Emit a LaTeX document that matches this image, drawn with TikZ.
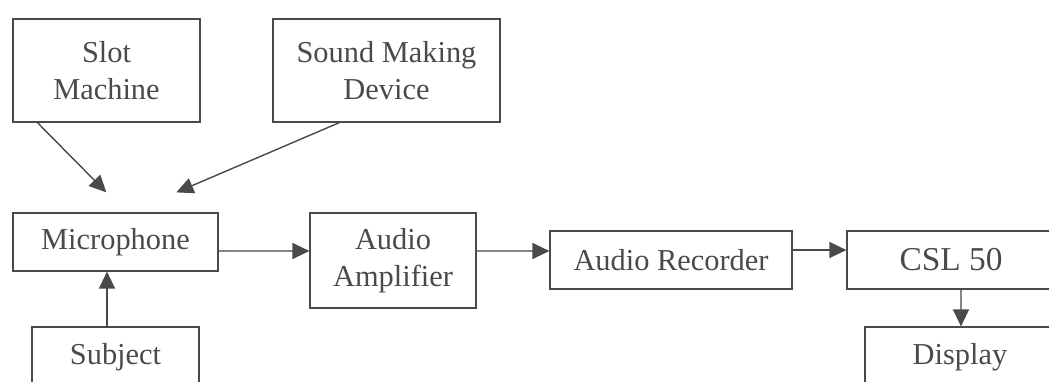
\documentclass[tikz,border=0pt]{standalone}
\usepackage{fontspec}
\setmainfont{Liberation Serif}
\usepackage{xcolor}
\usetikzlibrary{arrows.meta, positioning}
\definecolor{ink}{HTML}{4A4A4A}

\begin{document}
\begin{tikzpicture}[
			x=0.02cm, y=-0.02cm,
			block/.style={draw=ink, line width=0.7pt, rectangle, align=center, text=ink, inner sep=0pt,
				font=\fontsize{17.3}{21}\selectfont},
			arrow/.style={-{Triangle[length=0.34cm, width=0.32cm]}, draw=ink, fill=ink, line width=0.8pt}
			]
			
			\useasboundingbox (0,0) rectangle (1049,382);
			\clip (0,0) rectangle (1049,382);
			
			% Nodes
			\node (slot) [block, minimum width=3.74cm, minimum height=2.06cm] at (106.5,70.5) {Slot\\Machine};
			\node (sound) [block, minimum width=4.54cm, minimum height=2.06cm] at (386.5,70.5) {Sound Making\\Device};
			\node (mic) [block, minimum width=4.1cm, minimum height=1.16cm] at (115.5,242) {Microphone};
			\node (amp) [block, minimum width=3.32cm, minimum height=1.9cm] at (393,260.5) {Audio\\Amplifier};
			\node (rec) [block, minimum width=4.84cm, minimum height=1.16cm] at (671,260) {Audio Recorder};
			\node (csl) [block, minimum width=4.16cm, minimum height=1.16cm, font=\fontsize{19}{22}\selectfont] at (951,260) {CSL 50};
			\node (subject) [block, minimum width=3.34cm, minimum height=1.2cm] at (115.5,357) {Subject};
			\node (display) [block, minimum width=3.8cm, minimum height=1.2cm] at (960,357) {Display};
			
			\coordinate (micin1) at ([xshift=1.88cm, yshift=0.4cm]mic.north west);
			\coordinate (micin2) at ([xshift=3.28cm, yshift=0.4cm]mic.north west);
			
			% Connections
			\draw [arrow] ([xshift=0.5cm]slot.south west) -- (micin1);
			\draw [arrow] ([xshift=1.34cm]sound.south west) -- (micin2);
			\draw [arrow] ([xshift=-0.17cm]subject.north) -- ([xshift=-0.17cm]mic.south);
			\draw [arrow] ([yshift=-0.18cm]mic.east) -- ([yshift=0.19cm]amp.west);
			\draw [arrow] ([yshift=0.19cm]amp.east) -- ([yshift=0.18cm]rec.west);
			\draw [arrow] ([yshift=0.2cm]rec.east) -- ([yshift=0.2cm]csl.west);
			\draw [arrow] ([xshift=0.2cm]csl.south) -- ([xshift=0.02cm]display.north);
			
		\end{tikzpicture}
\end{document}
